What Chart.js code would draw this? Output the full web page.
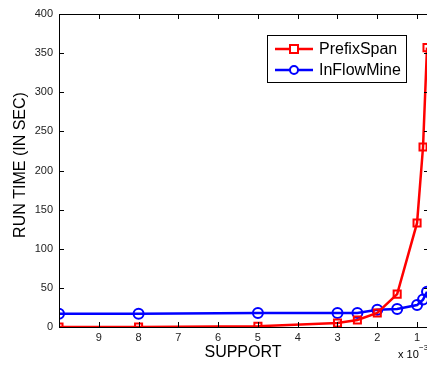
<!DOCTYPE html>
<html><head><meta charset="utf-8">
<script src="https://cdn.jsdelivr.net/npm/chart.js@4"></script>
<style>html,body{margin:0;padding:0;overflow:hidden;background:#fff;width:427px;height:365px}
#wrap{position:absolute;left:0;top:0;width:440px;height:365px}</style>
</head><body><div id="wrap"><canvas id="c" width="440" height="365"></canvas></div>
<script>
const support = [10, 8, 5, 3, 2.5, 2, 1.5, 1, 0.85, 0.75];
const prefixSpan = [0, 0, 1, 5, 9, 18, 42, 133, 230, 357];
const inFlowMine = [17, 17, 18, 18, 18, 22, 23, 28, 35, 45];
const seriesNames = ['PrefixSpan', 'InFlowMine'];
const xTitle = 'SUPPORT';
const yTitle = 'RUN TIME (IN SEC)';
const xTicks = [9, 8, 7, 6, 5, 4, 3, 2, 1];
const FONT = '"Liberation Sans", Arial, sans-serif';

function pts(ys){ return support.map((x,i)=>({x:x,y:ys[i]})); }

const deco = {
  id:'deco',
  afterDraw(chart){
    const ctx = chart.ctx, a = chart.chartArea, xs = chart.scales.x, ys = chart.scales.y;
    ctx.save();
    ctx.strokeStyle = '#000'; ctx.lineWidth = 1;
    ctx.strokeRect(Math.round(a.left)+0.5, Math.round(a.top)+0.5, Math.round(a.right-a.left), Math.round(a.bottom-a.top));
    const L = 5;
    ctx.beginPath();
    xTicks.forEach(v=>{
      const px = Math.round(xs.getPixelForValue(v))+0.5;
      ctx.moveTo(px, a.bottom); ctx.lineTo(px, a.bottom-L);
      ctx.moveTo(px, a.top); ctx.lineTo(px, a.top+L);
    });
    for(let v=0; v<=400; v+=50){
      const py = Math.round(ys.getPixelForValue(v))+0.5;
      ctx.moveTo(a.left, py); ctx.lineTo(a.left+L, py);
      ctx.moveTo(a.right, py); ctx.lineTo(a.right-L, py);
    }
    ctx.stroke();
    // titles
    ctx.fillStyle = '#000';
    ctx.font = '16px ' + FONT;
    ctx.textAlign = 'center'; ctx.textBaseline = 'middle';
    ctx.fillText(xTitle, 243, 353);
    ctx.save();
    ctx.translate(21, 165); ctx.rotate(-Math.PI/2);
    ctx.fillText(yTitle, 0, 0);
    ctx.restore();
    // exponent
    ctx.textAlign = 'left';
    ctx.font = '11px ' + FONT;
    ctx.fillText('x 10', 398, 355);
    ctx.font = '8px ' + FONT;
    ctx.fillText('\u22123', 419, 348);
    // legend
    const bx = 267, by = 35, bw = 139, bh = 47;
    ctx.fillStyle = '#fff';
    ctx.fillRect(bx, by, bw, bh);
    ctx.strokeStyle = '#000'; ctx.lineWidth = 1;
    ctx.strokeRect(bx+0.5, by+0.5, bw, bh);
    chart.data.datasets.forEach((ds,i)=>{
      const yy = by + 14 + i*21;
      ctx.strokeStyle = ds.borderColor; ctx.lineWidth = 2.5;
      ctx.beginPath(); ctx.moveTo(275, yy); ctx.lineTo(313, yy); ctx.stroke();
      ctx.lineWidth = 2;
      if(ds.pointStyle === 'rect'){
        ctx.fillStyle = '#fff';
        ctx.fillRect(290, yy-4, 8, 8);
        ctx.strokeRect(290, yy-4, 8, 8);
      } else {
        ctx.fillStyle = '#fff';
        ctx.beginPath(); ctx.arc(294, yy, 4, 0, Math.PI*2); ctx.fill(); ctx.stroke();
      }
      ctx.fillStyle = '#000';
      ctx.font = '16px ' + FONT;
      ctx.textAlign = 'left'; ctx.textBaseline = 'middle';
      ctx.fillText(ds.label, 319, yy+1);
    });
    ctx.restore();
  }
};

new Chart(document.getElementById('c'), {
  type: 'scatter',
  data: {
    datasets: [
      {label: seriesNames[0], data: pts(prefixSpan), showLine: true, borderColor: '#ff0000', backgroundColor: '#ffffff',
       borderWidth: 2.5, pointStyle: 'rect', pointRadius: 5, pointBorderWidth: 2, pointBackgroundColor: 'rgba(255,255,255,0)', tension: 0},
      {label: seriesNames[1], data: pts(inFlowMine), showLine: true, borderColor: '#0000ff', backgroundColor: '#ffffff',
       borderWidth: 2.5, pointStyle: 'circle', pointRadius: 5, pointBorderWidth: 2, pointBackgroundColor: 'rgba(255,255,255,0)', tension: 0}
    ]
  },
  options: {
    responsive: false, animation: false, devicePixelRatio: 1,
    layout: {padding: {left: 0, top: 14, right: 11, bottom: 0}},
    plugins: {legend: {display: false}, tooltip: {enabled: false}},
    scales: {
      x: {type: 'linear', reverse: true, min: 0.7, max: 10,
          grid: {display: false, drawTicks: false}, border: {display: false},
          afterFit(s){ s.height = 38; },
          ticks: {stepSize: 1, includeBounds: false, padding: 4, color: '#222', font: {family: FONT, size: 11},
                  callback: v => (xTicks.includes(v) ? String(v) : '')}},
      y: {min: 0, max: 400,
          grid: {display: false, drawTicks: false}, border: {display: false},
          afterFit(s){ s.width = 59; },
          ticks: {stepSize: 50, padding: 6, color: '#222', font: {family: FONT, size: 11}}}
    }
  },
  plugins: [deco]
});
</script></body></html>
